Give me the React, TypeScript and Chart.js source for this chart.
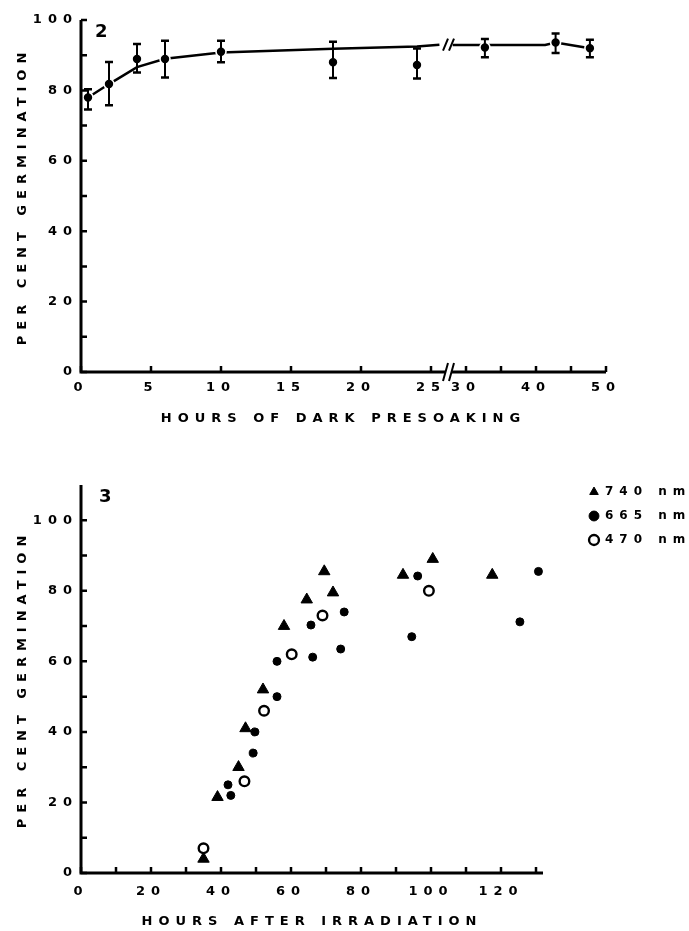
import React, { useEffect, useRef } from 'react';
import { Chart, registerables } from 'chart.js';

Chart.register(...registerables);

const FONT_FAMILY = "'DejaVu Sans', sans-serif";
Chart.defaults.font.family = FONT_FAMILY;
Chart.defaults.font.weight = 'bold';
Chart.defaults.color = '#000';

// ---------------- Figure 2: dark presoaking ----------------
const presoakHours = [0.5, 2, 4, 6, 10, 18, 24, 32.7, 42.8, 47.7];
const presoakGermination = [78, 81.8, 88.9, 88.9, 91, 88, 87.2, 92.2, 93.6, 92];
const presoakErrorHigh = [80.3, 88.1, 93.2, 94.1, 94.1, 93.8, 91.9, 94.6, 96.2, 94.4];
const presoakErrorLow = [74.6, 75.8, 85.1, 83.7, 88, 83.5, 83.4, 89.4, 90.6, 89.4];
const fitHoursBeforeBreak = [0.5, 2, 4, 6, 10, 18, 24, 26.2];
const fitGerminationBeforeBreak = [78, 81.8, 86.6, 89, 90.8, 91.8, 92.5, 93];
const fitHoursAfterBreak = [28.1, 41.3, 42.8, 47.7];
const fitGerminationAfterBreak = [92.9, 92.9, 93.6, 92];
const axisBreakHour = 27.5;
const fitBreakGermination = 93;
const presoakTickHours = [0, 5, 10, 15, 20, 25, 30, 35, 40, 45, 50];
const presoakLabelHours = [0, 5, 10, 15, 20, 25, 30, 40, 50];
const germinationTicksTop = [0, 10, 20, 30, 40, 50, 60, 70, 80, 90, 100];
const germinationLabels = [0, 20, 40, 60, 80, 100];

// ---------------- Figure 3: hours after irradiation ----------------
const hours740 = [35, 39, 45, 47, 52, 58, 64.5, 69.5, 72, 92, 100.5, 117.5];
const germ740 = [4, 21.5, 30, 41, 52, 70, 77.5, 85.5, 79.5, 84.5, 89, 84.5];
const hours665 = [42, 42.8, 49.2, 49.7, 56, 56, 65.7, 66.2, 74.2, 75.2, 94.5, 96.2, 125.4, 130.7];
const germ665 = [25, 22, 34, 40, 50, 60, 70.3, 61.2, 63.5, 74, 67, 84.2, 71.2, 85.5];
const hours470 = [35, 46.7, 52.3, 60.2, 69, 99.4];
const germ470 = [7, 26, 46, 62, 73, 80];
const irradTickHours = [0, 10, 20, 30, 40, 50, 60, 70, 80, 90, 100, 110, 120, 130];
const irradLabelHours = [0, 20, 40, 60, 80, 100, 120];
const germinationTicksBottom = [0, 10, 20, 30, 40, 50, 60, 70, 80, 90, 100];

// axis compression after the break (25 h): half scale
const compressHours = (h: number) => (h <= 25 ? h : 25 + (h - 25) / 2);
const expandHours = (u: number) => (u <= 25 ? u : 25 + (u - 25) * 2);

const SPACING_PX = 6;
const SPACING = `${SPACING_PX}px`;

function framePlugin(cfg: any) {
  return {
    id: 'frame',
    beforeUpdate(chart: any) {
      chart.ctx.letterSpacing = SPACING;
    },
    beforeDraw(chart: any) {
      chart.ctx.letterSpacing = SPACING;
    },
    afterLayout(chart: any) {
      if (cfg.legendAt && chart.legend) {
        const lg = chart.legend;
        lg.left = cfg.legendAt[0];
        lg.top = cfg.legendAt[1];
        lg.width = 112;
        lg.height = 100;
        lg.right = lg.left + 112;
        lg.bottom = lg.top + 100;
      }
    },
    afterDatasetsDraw(chart: any) {
      if (!cfg.errors) return;
      const ctx = chart.ctx;
      const yScale = chart.scales.y;
      const meta = chart.getDatasetMeta(0);
      ctx.save();
      ctx.strokeStyle = '#000';
      meta.data.forEach((pt: any, i: number) => {
        const yh = yScale.getPixelForValue(cfg.errors.high[i]);
        const yl = yScale.getPixelForValue(cfg.errors.low[i]);
        ctx.lineWidth = 2;
        ctx.beginPath();
        ctx.moveTo(pt.x, yh);
        ctx.lineTo(pt.x, yl);
        ctx.stroke();
        ctx.lineWidth = 2.5;
        ctx.beginPath();
        ctx.moveTo(pt.x - 4, yh);
        ctx.lineTo(pt.x + 4, yh);
        ctx.moveTo(pt.x - 4, yl);
        ctx.lineTo(pt.x + 4, yl);
        ctx.stroke();
      });
      ctx.restore();
    },
    afterDraw(chart: any) {
      const ctx = chart.ctx;
      const { left, right, top, bottom } = chart.chartArea;
      const xs = chart.scales.x;
      const ys = chart.scales.y;
      ctx.save();
      ctx.letterSpacing = '0px';
      ctx.strokeStyle = '#000';
      ctx.lineCap = 'butt';
      ctx.lineWidth = 3;
      ctx.beginPath();
      ctx.moveTo(left, top);
      ctx.lineTo(left, bottom + 1.5);
      ctx.moveTo(left - 1.5, bottom);
      ctx.lineTo(right, bottom);
      ctx.stroke();
      ctx.lineWidth = 2.5;
      ctx.beginPath();
      ys.ticks.forEach((t: any) => {
        const y = ys.getPixelForValue(t.value);
        ctx.moveTo(left, y);
        ctx.lineTo(left + 6, y);
      });
      xs.ticks.forEach((t: any) => {
        const x = xs.getPixelForValue(t.value);
        ctx.moveTo(x, bottom);
        ctx.lineTo(x, bottom - 6);
      });
      ctx.stroke();

      // y tick labels (right aligned, tracked)
      ctx.fillStyle = '#000';
      ctx.font = `bold 13px ${FONT_FAMILY}`;
      ctx.textAlign = 'left';
      ctx.textBaseline = 'middle';
      ys.ticks.forEach((t: any) => {
        const label = t.label == null ? '' : String(t.label);
        if (!label) return;
        ctx.letterSpacing = '0px';
        const w0 = ctx.measureText(label).width;
        const total = w0 + (label.length - 1) * SPACING_PX;
        ctx.letterSpacing = SPACING;
        ctx.fillText(label, left - 9 - total, ys.getPixelForValue(t.value));
      });
      ctx.letterSpacing = '0px';

      if (cfg.breakHour !== undefined) {
        const bx = xs.getPixelForValue(compressHours(cfg.breakHour));
        ctx.fillStyle = '#fff';
        ctx.fillRect(bx - 3, bottom - 2.5, 6, 5);
        ctx.lineWidth = 2;
        ctx.beginPath();
        [-3, 3].forEach((dx) => {
          ctx.moveTo(bx + dx - 2.5, bottom + 9);
          ctx.lineTo(bx + dx + 2.5, bottom - 9);
        });
        const by = ys.getPixelForValue(cfg.breakValue);
        [-3, 3].forEach((dx) => {
          ctx.moveTo(bx + dx - 2.5, by + 6);
          ctx.lineTo(bx + dx + 2.5, by - 6);
        });
        ctx.stroke();
      }
      ctx.fillStyle = '#000';
      ctx.font = `bold 18px ${FONT_FAMILY}`;
      ctx.textAlign = 'left';
      ctx.textBaseline = 'alphabetic';
      ctx.fillText(cfg.panel, cfg.panelAt[0], cfg.panelAt[1]);
      ctx.restore();
    },
  };
}

const tickFont = { size: 13, weight: 'bold' };
const titleFont = { size: 13, weight: 'bold' };

function buildPresoakConfig(): any {
  const points = presoakHours.map((h, i) => ({ x: compressHours(h), y: presoakGermination[i] }));
  const curve = [
    ...fitHoursBeforeBreak.map((h, i) => ({ x: compressHours(h), y: fitGerminationBeforeBreak[i] })),
    { x: compressHours(axisBreakHour), y: null },
    ...fitHoursAfterBreak.map((h, i) => ({ x: compressHours(h), y: fitGerminationAfterBreak[i] })),
  ];
  return {
    type: 'scatter',
    data: {
      datasets: [
        {
          label: 'germination',
          data: points,
          pointRadius: 5,
          pointBackgroundColor: '#000',
          pointBorderColor: '#fff',
          pointBorderWidth: 1.6,
          showLine: false,
        },
        {
          label: 'fit',
          data: curve,
          showLine: true,
          spanGaps: false,
          borderColor: '#000',
          borderWidth: 2.5,
          pointRadius: 0,
          tension: 0,
        },
      ],
    },
    options: {
      responsive: false,
      maintainAspectRatio: false,
      animation: false,
      devicePixelRatio: 1,
      events: [],
      layout: { padding: { top: 20, right: 83, left: 0, bottom: 0 } },
      plugins: { legend: { display: false }, tooltip: { enabled: false } },
      scales: {
        x: {
          type: 'linear',
          min: 0,
          max: compressHours(50),
          grid: { display: false, drawTicks: false },
          border: { display: false },
          afterBuildTicks: (s: any) => {
            s.ticks = presoakTickHours.map((h) => ({ value: compressHours(h) }));
          },
          afterFit: (s: any) => {
            s.height = 68;
          },
          ticks: {
            autoSkip: false,
            maxRotation: 0,
            minRotation: 0,
            padding: 8,
            font: tickFont,
            callback: (v: number) => {
              const h = Math.round(expandHours(v));
              return presoakLabelHours.includes(h) ? String(h) : '';
            },
          },
          title: {
            display: true,
            text: 'HOURS OF DARK PRESOAKING',
            font: titleFont,
            padding: { top: 0, bottom: 14 },
          },
        },
        y: {
          type: 'linear',
          min: 0,
          max: 100,
          grid: { display: false, drawTicks: false },
          border: { display: false },
          afterBuildTicks: (s: any) => {
            s.ticks = germinationTicksTop.map((v) => ({ value: v }));
          },
          afterFit: (s: any) => {
            s.width = 81;
          },
          ticks: {
            display: false,
            autoSkip: false,
            font: tickFont,
            callback: (v: number) => (germinationLabels.includes(v) ? String(v) : ''),
          },
          title: {
            display: true,
            text: 'PER CENT GERMINATION',
            font: titleFont,
            padding: { top: 15, bottom: 0 },
          },
        },
      },
    },
    plugins: [
      framePlugin({
        panel: '2',
        panelAt: [95, 37],
        breakHour: axisBreakHour,
        breakValue: fitBreakGermination,
        errors: { high: presoakErrorHigh, low: presoakErrorLow },
      }),
    ],
  };
}

function buildIrradiationConfig(): any {
  return {
    type: 'scatter',
    data: {
      datasets: [
        {
          label: '740 nm',
          data: hours740.map((h, i) => ({ x: h, y: germ740[i] })),
          pointStyle: 'triangle',
          pointRadius: 6.6,
          backgroundColor: '#000',
          borderColor: '#000',
          borderWidth: 1,
        },
        {
          label: '665 nm',
          data: hours665.map((h, i) => ({ x: h, y: germ665[i] })),
          pointStyle: 'circle',
          pointRadius: 4,
          backgroundColor: '#000',
          borderColor: '#000',
          borderWidth: 1,
        },
        {
          label: '470 nm',
          data: hours470.map((h, i) => ({ x: h, y: germ470[i] })),
          pointStyle: 'circle',
          pointRadius: 4.8,
          backgroundColor: '#fff',
          borderColor: '#000',
          borderWidth: 2.4,
        },
      ],
    },
    options: {
      responsive: false,
      maintainAspectRatio: false,
      animation: false,
      devicePixelRatio: 1,
      events: [],
      layout: { padding: { top: 45, right: 146, left: 0, bottom: 0 } },
      plugins: {
        tooltip: { enabled: false },
        legend: {
          display: true,
          position: 'chartArea',
          align: 'start',
          labels: {
            usePointStyle: true,
            boxWidth: 10,
            boxHeight: 7,
            padding: 12,
            color: '#000',
            font: { size: 12, weight: 'bold' },
          },
        },
      },
      scales: {
        x: {
          type: 'linear',
          min: 0,
          max: 132,
          grid: { display: false, drawTicks: false },
          border: { display: false },
          afterBuildTicks: (s: any) => {
            s.ticks = irradTickHours.map((h) => ({ value: h }));
          },
          afterFit: (s: any) => {
            s.height = 58;
          },
          ticks: {
            autoSkip: false,
            maxRotation: 0,
            minRotation: 0,
            padding: 11,
            font: tickFont,
            callback: (v: number) => (irradLabelHours.includes(v) ? String(v) : ''),
          },
          title: {
            display: true,
            text: 'HOURS AFTER IRRADIATION',
            font: titleFont,
            padding: { top: 0, bottom: 1.5 },
          },
        },
        y: {
          type: 'linear',
          min: 0,
          max: 110,
          grid: { display: false, drawTicks: false },
          border: { display: false },
          afterBuildTicks: (s: any) => {
            s.ticks = germinationTicksBottom.map((v) => ({ value: v }));
          },
          afterFit: (s: any) => {
            s.width = 81;
          },
          ticks: {
            display: false,
            autoSkip: false,
            font: tickFont,
            callback: (v: number) => (germinationLabels.includes(v) ? String(v) : ''),
          },
          title: {
            display: true,
            text: 'PER CENT GERMINATION',
            font: titleFont,
            padding: { top: 15, bottom: 0 },
          },
        },
      },
    },
    plugins: [
      framePlugin({
        panel: '3',
        panelAt: [99, 62],
        legendAt: [577, 34],
      }),
    ],
  };
}

function ChartCanvas({ build, top, height }: { build: () => any; top: number; height: number }) {
  const ref = useRef<HTMLCanvasElement>(null);
  useEffect(() => {
    if (!ref.current) return;
    const chart = new Chart(ref.current, build());
    return () => chart.destroy();
  }, []);
  return (
    <canvas
      ref={ref}
      width={689}
      height={height}
      style={{ position: 'absolute', left: 0, top, width: 689, height, display: 'block' }}
    />
  );
}

export default function App() {
  return (
    <div
      style={{
        position: 'absolute',
        left: 0,
        top: 0,
        width: 689,
        height: 931,
        background: '#fff',
        overflow: 'hidden',
      }}
    >
      <ChartCanvas build={buildPresoakConfig} top={0} height={440} />
      <ChartCanvas build={buildIrradiationConfig} top={440} height={491} />
    </div>
  );
}
